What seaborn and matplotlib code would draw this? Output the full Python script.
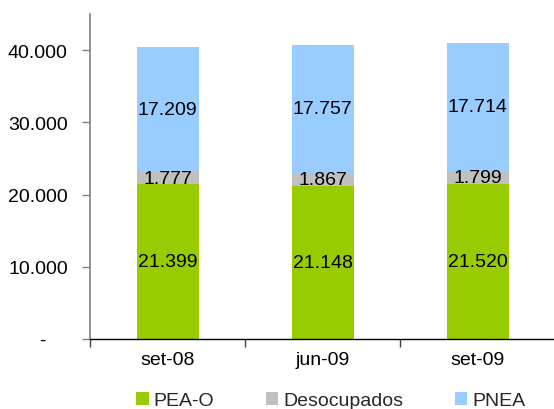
import matplotlib
matplotlib.use("Agg")
import matplotlib.pyplot as plt
import matplotlib.ticker as mticker
from matplotlib.patches import Patch
import numpy as np
import pandas as pd
import seaborn as sns

periods = ["set-08", "jun-09", "set-09"]
pea_o = [21399, 21148, 21520]
desocupados = [1777, 1867, 1799]
pnea = [17209, 17757, 17714]

series_names = ["PEA-O", "Desocupados", "PNEA"]
colors = ["#99CC00", "#C0C0C0", "#99CCFF"]

sns.set_theme(style="white")
plt.rcParams["font.family"] = ["Liberation Sans", "DejaVu Sans"]

fig = plt.figure(figsize=(5.54, 4.10), dpi=100)
ax = fig.add_axes([90 / 554, 1 - 340 / 410, 1 - 90 / 554 + 0.002, (340 - 15) / 410])

layers = np.array([pea_o, desocupados, pnea], dtype=float)
cum = np.cumsum(layers, axis=0)

# draw from the tallest stack down so each segment shows on top of the previous
for i in range(len(series_names) - 1, -1, -1):
    df = pd.DataFrame({"period": periods, "value": cum[i]})
    sns.barplot(data=df, x="period", y="value", color=colors[i], width=0.4,
                saturation=1, ax=ax, linewidth=0, errorbar=None)

# value labels centred in each segment
for i in range(len(series_names)):
    bottoms = cum[i] - layers[i]
    for j in range(len(periods)):
        val = layers[i][j]
        txt = f"{val / 1000:.3f}"
        ax.text(j, bottoms[j] + val / 2, txt, ha="center", va="center",
                fontsize=14, color="black")

ax.set_ylim(0, 45000)
ax.set_xlim(-0.5, 2.5)
ax.set_yticks([0, 10000, 20000, 30000, 40000])
# accounting-style format: zero shown as a dash, thousands with a dot
ax.yaxis.set_major_formatter(mticker.FuncFormatter(
    lambda v, p: "-    " if v == 0 else f"{int(v):,}".replace(",", ".")))
ax.set_xlabel("")
ax.set_ylabel("")

for s in ["top", "right"]:
    ax.spines[s].set_visible(False)
ax.spines["left"].set_color("#808080")
ax.spines["left"].set_linewidth(1.2)
ax.spines["bottom"].set_color("black")
ax.spines["bottom"].set_linewidth(1.0)

ax.tick_params(axis="y", which="major", left=True, length=6, width=1,
               color="#808080", labelsize=14, pad=10, labelcolor="black")
ax.tick_params(axis="x", which="major", bottom=False, length=0,
               labelsize=14, pad=9, labelcolor="black")
ax.set_xticks([-0.5, 0.5, 1.5, 2.5], minor=True)
ax.tick_params(axis="x", which="minor", bottom=True, length=6, width=1,
               color="#404040")

handles = [Patch(facecolor=c, edgecolor="none") for c in colors]
fig.legend(handles, series_names, loc="center", ncol=3,
           bbox_to_anchor=(0.597, 0.02), frameon=False, fontsize=14,
           handlelength=0.65, handleheight=0.65, handletextpad=0.25,
           columnspacing=2.65)

fig.savefig("out.png", dpi=100)
